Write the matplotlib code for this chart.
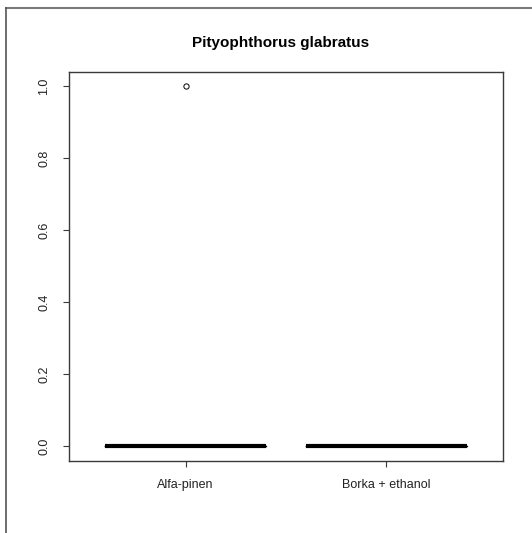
import matplotlib
matplotlib.use("Agg")
import matplotlib.pyplot as plt
from matplotlib.lines import Line2D

plt.rcParams['font.family'] = ['Liberation Sans', 'DejaVu Sans']

# trap catches per sample
groups = ['Alfa-pinen', 'Borka + ethanol']
alfa_pinen = [0, 0, 0, 0, 0, 0, 0, 0, 0, 1]
borka_ethanol = [0, 0, 0, 0, 0, 0, 0, 0, 0, 0]
yticks = [0.0, 0.2, 0.4, 0.6, 0.8, 1.0]
title = 'Pityophthorus glabratus'

fig = plt.figure(figsize=(5.32, 5.33), dpi=100)
ax = fig.add_axes([0.1297, 0.136, 0.8158, 0.7295])

edge = '#3a3a3a'
ax.boxplot([alfa_pinen, borka_ethanol], positions=[1, 2], widths=0.8,
           whis=1.5,
           boxprops=dict(color='black', linewidth=1),
           medianprops=dict(color='black', linewidth=3, solid_capstyle='butt'),
           whiskerprops=dict(color='black', linewidth=1, linestyle='--'),
           capprops=dict(color='black', linewidth=1),
           flierprops=dict(marker='o', markersize=3.8, markerfacecolor='white',
                           markeredgecolor='black', markeredgewidth=0.7))

ax.set_xlim(0.42, 2.58)
ax.set_ylim(-0.04, 1.04)
ax.set_xticks([1, 2])
ax.set_xticklabels(groups)
ax.set_yticks(yticks)
ax.set_yticklabels([f'{v:.1f}' for v in yticks], rotation=90, va='center')

for s in ax.spines.values():
    s.set_color(edge)
    s.set_linewidth(1)
ax.tick_params(axis='both', direction='out', length=4.5, width=0.8,
               color=edge, labelsize=9, labelcolor='#222222')
ax.tick_params(axis='y', pad=9)
ax.tick_params(axis='x', pad=9)

fig.text(0.527, 0.92, title, ha='center', va='center',
         fontsize=11, fontweight='bold', color='black')

# outer frame lines along top and left edges
fig.add_artist(Line2D([6 / 532, 1], [1 - 8 / 533, 1 - 8 / 533],
                      transform=fig.transFigure, color='#7a7a7a', linewidth=1.5))
fig.add_artist(Line2D([6 / 532, 6 / 532], [0, 1 - 8 / 533],
                      transform=fig.transFigure, color='#555555', linewidth=1.2))

fig.savefig('out.png', dpi=100)
